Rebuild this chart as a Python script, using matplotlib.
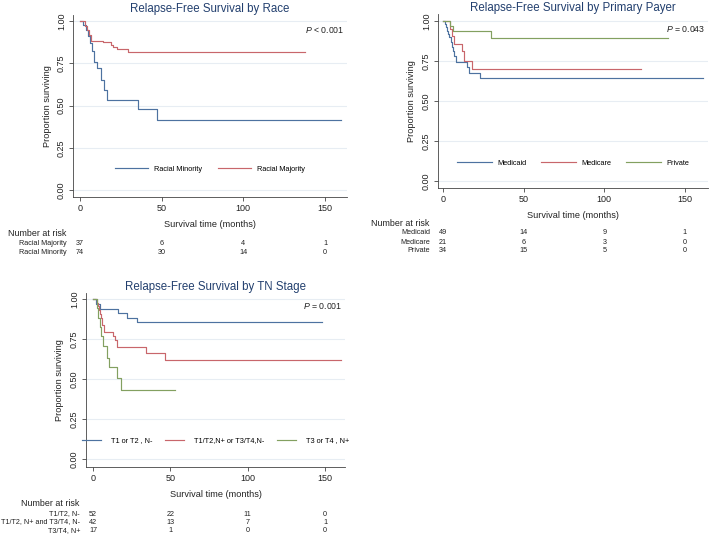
import matplotlib
matplotlib.use('Agg')
import matplotlib.pyplot as plt
from matplotlib.transforms import blended_transform_factory

plt.rcParams['font.family'] = ['Liberation Sans', 'DejaVu Sans']
plt.rcParams['mathtext.fontset'] = 'custom'
plt.rcParams['mathtext.it'] = 'Liberation Sans:italic'
plt.rcParams['mathtext.rm'] = 'Liberation Sans'

# ---------------- data ----------------
# Panel 1: race
race_labels = ['Racial Minority', 'Racial Majority']
race_minority_t = [0, 2, 3.5, 5, 6, 7.3, 8.6, 10.6, 12.7, 14.9, 16.3, 35.3, 47.3, 160]
race_minority_s = [1.0, 0.976, 0.947, 0.91, 0.868, 0.824, 0.76, 0.72, 0.651, 0.592, 0.533, 0.479, 0.414, 0.414]
race_majority_t = [0, 3, 4, 5.5, 7, 14, 18.8, 20.4, 22.5, 29.6, 138]
race_majority_s = [1.0, 0.973, 0.946, 0.92, 0.883, 0.874, 0.86, 0.848, 0.836, 0.815, 0.815]
race_p = '$\\it{P}$ < 0.001'

# Panel 2: primary payer
payer_labels = ['Medicaid', 'Medicare', 'Private']
medicaid_t = [0, 1.2, 2, 2.7, 3.3, 4, 4.7, 5.4, 6.2, 7, 8, 15.1, 16.3, 22.9, 161]
medicaid_s = [1.0, 0.98, 0.96, 0.94, 0.92, 0.9, 0.87, 0.84, 0.81, 0.78, 0.746, 0.71, 0.673, 0.642, 0.642]
medicare_t = [0, 4.3, 5.5, 6.8, 11.6, 13.1, 17.8, 122.7]
medicare_s = [1.0, 0.952, 0.905, 0.857, 0.81, 0.752, 0.698, 0.698]
private_t = [0, 4.3, 5.9, 29.5, 139.7]
private_s = [1.0, 0.97, 0.9375, 0.896, 0.896]
payer_p = '$\\it{P}$ = 0.043'

# Panel 3: TN stage
tn_labels = ['T1 or T2 , N-', 'T1/T2,N+ or T3/T4,N-', 'T3 or T4 , N+']
tn1_t = [0, 2, 4.5, 16.4, 22.2, 28.7, 147.8]
tn1_s = [1.0, 0.97, 0.9375, 0.91, 0.883, 0.854, 0.854]
tn2_t = [0, 2.4, 3.2, 4, 4.6, 5.2, 5.8, 7.1, 13.1, 14.2, 15.3, 34.4, 46.5, 160]
tn2_s = [1.0, 0.976, 0.952, 0.929, 0.905, 0.88, 0.838, 0.79, 0.765, 0.74, 0.698, 0.662, 0.615, 0.615]
tn3_t = [0, 2.4, 3.4, 4.3, 5.2, 6.2, 8.8, 10.5, 15.3, 18.1, 53]
tn3_s = [1.0, 0.941, 0.882, 0.824, 0.765, 0.706, 0.63, 0.573, 0.504, 0.431, 0.431]
tn_p = '$\\it{P}$ = 0.001'

# Number at risk
risk_times = [0, 50, 100, 150]
race_risk_labels = ['Racial Majority', 'Racial Minority']
race_risk = [[37, 6, 4, 1], [74, 30, 14, 0]]
payer_risk_labels = ['Medicaid', 'Medicare', 'Private']
payer_risk = [[49, 14, 9, 1], [21, 6, 3, 0], [34, 15, 5, 0]]
tn_risk_labels = ['T1/T2, N-', 'T1/T2, N+ and T3/T4, N-', 'T3/T4, N+']
tn_risk = [[52, 22, 11, 0], [42, 13, 7, 1], [17, 1, 0, 0]]

yticks = [0, 0.25, 0.5, 0.75, 1.0]
ytick_labels = ['0.00', '0.25', '0.50', '0.75', '1.00']
xticks = [0, 50, 100, 150]

BLUE = '#4d72a0'
RED = '#c8666b'
GREEN = '#83a060'
TITLE_C = '#223f6e'
AX_C = '#444444'
TXT_C = '#222222'

W, H = 709, 536
fig = plt.figure(figsize=(W / 100, H / 100), dpi=100)


def fx(px):
    return px / W


def fy(py):
    return 1 - py / H


def panel(left, right, top, bottom, xlim, ylim, title, curves, labels,
          leg_y, leg_kw, ptext, p_y, nar_x, nar_y, row_label_x, row_ys,
          risk_labels, risk):
    ax = fig.add_axes([fx(left), fy(bottom), fx(right - left), (bottom - top) / H])
    for (t, s), c, lab in zip(curves, [BLUE, RED, GREEN], labels):
        ax.step(t, s, where='post', color=c, lw=0.85, label=lab)
    ax.set_xlim(*xlim)
    ax.set_ylim(*ylim)
    ax.set_yticks(yticks)
    ax.set_yticklabels(ytick_labels, rotation=90, va='center')
    ax.set_xticks(xticks)
    ax.tick_params(axis='both', labelsize=6.5, length=3, width=0.6, color=AX_C,
                   labelcolor=TXT_C, pad=2)
    for sp in ['top', 'right']:
        ax.spines[sp].set_visible(False)
    for sp in ['left', 'bottom']:
        ax.spines[sp].set_color(AX_C)
        ax.spines[sp].set_linewidth(0.6)
    ax.grid(axis='y', color='#e7edf3', lw=0.8)
    ax.set_axisbelow(True)
    ax.set_xlabel('Survival time (months)', fontsize=6.6, color=TXT_C, labelpad=5)
    ax.set_ylabel('Proportion surviving', fontsize=6.6, color=TXT_C, labelpad=4)
    ax.set_title(title, fontsize=8.3, color=TITLE_C, pad=2.5, y=1.0)
    ax.legend(loc='center', bbox_to_anchor=(0.5, leg_y),
              bbox_transform=blended_transform_factory(ax.transAxes, ax.transData),
              ncol=len(labels), frameon=False, fontsize=5.3, **leg_kw)
    ax.text(0.99, p_y, ptext, transform=blended_transform_factory(ax.transAxes, ax.transData),
            ha='right', va='center', fontsize=6.3, color=TXT_C)
    fig.text(fx(nar_x), fy(nar_y), 'Number at risk', fontsize=6.4, ha='left', va='center',
             color=TXT_C)
    tr = blended_transform_factory(ax.transData, fig.transFigure)
    for lab, row, ry in zip(risk_labels, risk, row_ys):
        fig.text(fx(row_label_x), fy(ry), lab, fontsize=5.2, ha='right', va='center',
                 color=TXT_C)
        for t, n in zip(risk_times, row):
            ax.text(t, fy(ry), str(n), transform=tr, fontsize=5.2, ha='center',
                    va='center', color=TXT_C)
    return ax


panel(73, 347, 15, 197, (-4.3, 163.5), (-0.041, 1.036),
      'Relapse-Free Survival by Race',
      [(race_minority_t, race_minority_s), (race_majority_t, race_majority_s)],
      race_labels, 0.124,
      dict(handlelength=4.5, handletextpad=0.8, columnspacing=2.2),
      race_p, 0.95, 8, 233, 67, [243, 252], race_risk_labels, race_risk)

panel(438, 708, 14, 188, (-3.1, 164.3), (-0.044, 1.044),
      'Relapse-Free Survival by Primary Payer',
      [(medicaid_t, medicaid_s), (medicare_t, medicare_s), (private_t, private_s)],
      payer_labels, 0.11,
      dict(handlelength=4.75, handletextpad=0.7, columnspacing=2.0),
      payer_p, 0.948, 371, 224, 430, [233, 242, 251], payer_risk_labels, payer_risk)

panel(86, 345, 293, 467, (-4.5, 162.9), (-0.05, 1.036),
      'Relapse-Free Survival by TN Stage',
      [(tn1_t, tn1_s), (tn2_t, tn2_s), (tn3_t, tn3_s)],
      tn_labels, 0.114,
      dict(handlelength=2.6, handletextpad=1.35, columnspacing=1.7),
      tn_p, 0.956, 21, 503, 80, [514, 522, 531], tn_risk_labels, tn_risk)

fig.savefig('out.png', dpi=100, facecolor='white')
